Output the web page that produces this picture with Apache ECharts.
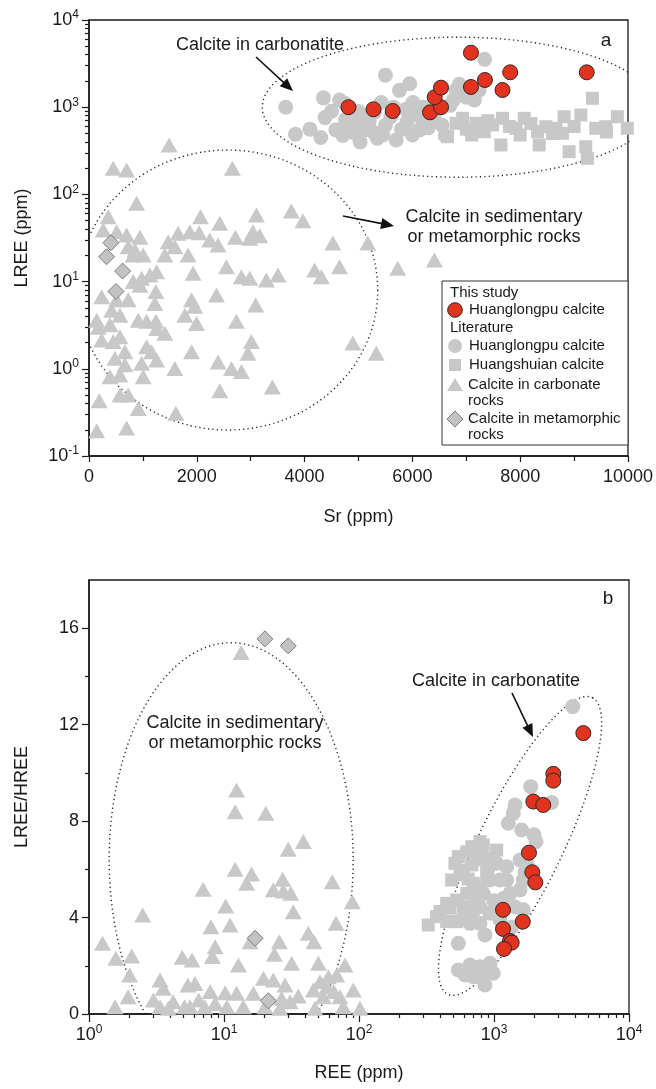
<!DOCTYPE html>
<html>
<head>
<meta charset="utf-8">
<script src="https://cdn.jsdelivr.net/npm/echarts@6/dist/echarts.min.js"></script>
<style>html,body{margin:0;padding:0;background:#fff}#main{width:656px;height:1089px}</style>
</head>
<body>
<div id="main"></div>
<script>
var FONT = '"Liberation Sans", Arial, sans-serif';
var INK = '#1a1a1a';

// ---- panel a : Sr (ppm) vs LREE (ppm) ----
var aRedHlp = [[4815,1000],[5278,946],[5635,904],[6328,873],[6531,1000],[6413,1300],[6531,1675],
  [7087,4217],[7087,1706],[7346,2051],[7815,2512],[7672,1574],[9235,2512]];
var aLitHlp = [[5500,2330],[3650,1000],[4350,1280],[4650,1210],[4380,760],[3830,490],[4300,450],
  [4580,550],[4710,475],[4890,520],[5030,400],[5110,550],[5020,810],[5270,520],[5350,440],[7340,3540],
  [4760,720],[5000,890],[5150,600],[5420,1130],[5700,420],[5760,1560],[5950,1860],[6010,1130],
  [5880,950],[6130,550],[6290,580],[6100,810],[6610,470],[6870,1830],[6930,1560],[7150,1210],
  [7240,1575],[6760,1210],[4500,900],[4800,640],[5200,700],[5500,620],[5600,780],[5300,880],
  [5900,680],[6200,690],[6000,480],[5450,480],[4950,620],[5650,1000],[6700,1050],[6200,1000],
  [7000,1300],[4750,1100],[6810,1575],[4960,490],[4100,560],[5800,560],[6400,760],[6550,620]];
var aHsa = [[6932,746],[7180,654],[7334,524],[7673,746],[7643,369],[8075,746],[8321,524],[8353,369],
  [8662,573],[8815,778],[8908,309],[9125,814],[9217,352],[9247,259],[9340,1265],[9403,573],[9803,778],
  [9988,573],[6654,459],[6810,654],[7488,625],[7921,573],[8476,597],[8784,502],[9588,597],
  [7000,560],[7400,700],[7800,600],[8200,650],[8600,500],[9000,600],[9600,520],[8000,480],[7100,480]];
var aCarbRock = [[1487,369],[450,200],[698,190],[2661,200],[883,79],[357,55.5],[2069,55.5],[2426,46.6],
  [3106,58],[3754,64.5],[3969,49.9],[265,39.1],[513,37.4],[698,34.2],[945,32.2],[1654,35.8],[1871,37.4],
  [2043,36.4],[1469,28.7],[1593,25.1],[2241,30.0],[2395,26.3],[2717,32.2],[3043,37.4],[3167,33.6],
  [2982,31.4],[4524,27.7],[5173,27.7],[728,25.1],[852,23.0],[1006,20.2],[820,20.2],[1408,20.2],
  [1839,20.2],[2550,14.8],[1932,12.5],[1254,13.0],[1130,11.9],[976,10.9],[820,10.0],[945,9.1],
  [2828,11.4],[2982,10.9],[3291,10.4],[3506,11.9],[4186,13.6],[4310,11.4],[4648,14.8],[5728,14.2],
  [6408,17.7],[1241,7.7],[1222,5.6],[235,6.7],[513,6.2],[728,6.2],[2365,7.0],[1902,6.2],[1963,5.2],
  [3093,5.4],[420,4.7],[574,4.1],[1778,4.1],[143,3.6],[913,3.6],[1069,3.5],[1241,3.5],[389,3.2],
  [172,3.0],[1995,3.3],[2735,3.5],[1254,2.9],[1408,2.55],[235,2.14],[450,2.05],[574,2.33],[3013,2.05],
  [4895,1.98],[5330,1.51],[667,1.57],[1069,1.79],[1161,1.57],[1902,1.57],[2950,1.51],[482,1.32],
  [667,1.11],[976,1.16],[1254,1.26],[1593,1.01],[2395,1.20],[2643,1.01],[2828,0.93],[389,0.81],
  [574,0.85],[1006,0.81],[574,0.50],[728,0.50],[191,0.43],[913,0.35],[2426,0.56],[3402,0.62],
  [1611,0.31],[143,0.195],[698,0.21]];
var aMetaRock = [[407,27.9],[327,19.3],[624,13.2],[500,7.7]];

// ---- panel b : REE (ppm) vs LREE/HREE ----
var bRedHlp = [[4590,11.65],[2750,9.96],[2750,9.68],[1955,8.81],[2317,8.67],[1816,6.69],[1923,5.88],
  [2024,5.46],[1166,4.32],[1634,3.83],[1166,3.53],[1314,3.03],[1352,2.96],[1186,2.70]];
var bLitHlp = [[3830,12.75],[1871,9.43],[2673,8.77],[1432,8.67],[1390,8.33],[1276,7.91],[1604,7.63],
  [1977,7.43],[2046,7.15],[544,2.93],[857,3.28],[544,1.83],[664,2.03],[788,1.96],[934,2.10],[988,1.69],
  [857,1.20],[703,1.55],[788,1.55],[610,1.62],[1648,4.32],[1432,4.45],[1314,5.0],[1560,5.15],
  [1648,5.56],[1746,6.25],[1560,6.39],[1242,6.11],[1047,6.25],[934,5.56],[833,5.0],[788,4.45],
  [934,4.18],[1107,3.9],[664,3.76],[593,4.04],[703,4.45],[1107,5.56],[1242,5.56],[788,3.76],
  [1180,4.8],[1000,4.7],[1350,3.6],[900,6.0],[1700,5.9]];
var bHsa = [[326,3.69],[376,4.04],[446,3.83],[472,4.39],[529,4.73],[486,5.56],[514,6.25],[544,6.53],
  [628,6.73],[788,7.15],[811,6.73],[684,6.18],[593,5.77],[703,5.42],[628,5.0],[593,4.45],[529,3.83],
  [934,6.46],[1047,6.8],[883,5.97],[644,5.6],[745,4.87],[883,5.56],[446,4.59],[398,4.25],[684,6.94],
  [833,7.01],[560,5.97],[760,6.4],[700,4.2],[620,4.0],[800,5.2]];
var bCarbRock = [[13.4,14.99],[12.4,9.29],[12.1,8.39],[20.4,8.33],[29.9,6.83],[38.7,7.15],[12.1,6.0],
  [16.0,5.81],[14.7,5.42],[27.2,5.59],[23.2,5.15],[27.5,5.10],[31.2,5.01],[63.4,5.49],[7.0,5.17],
  [10.3,4.48],[32.6,4.24],[89.2,4.66],[2.5,4.11],[11.1,3.69],[8.0,3.62],[67.6,3.76],[42.1,3.35],
  [46.4,3.0],[15.6,3.0],[25.7,3.0],[8.6,2.79],[1.26,2.93],[1.58,2.31],[2.07,2.41],[8.2,2.38],
  [23.6,2.48],[4.9,2.35],[5.8,2.24],[12.8,2.03],[31.7,2.10],[50,2.10],[78.8,2.03],[2.0,1.62],
  [3.36,1.41],[5.4,1.20],[6.1,1.27],[19.6,1.48],[23.2,1.41],[28.3,1.20],[51.4,1.34],[59.3,1.55],
  [68.4,1.62],[58,1.13],[45.9,1.0],[90.7,1.0],[1.95,0.72],[3.55,1.07],[7.9,0.93],[10.2,0.88],
  [12.4,0.86],[16.5,0.86],[26.7,0.65],[35.5,0.75],[65.0,0.93],[72.3,0.72],[1.56,0.30],[3.0,0.58],
  [4.2,0.51],[5.1,0.30],[6.5,0.58],[8.6,0.44],[10.5,0.30],[13.9,0.30],[20.1,0.30],[30.9,0.51],
  [47.2,0.24],[76.5,0.30],[101.7,0.24],[3.36,0.30],[3.87,0.24],[5.6,0.30],[7.2,0.30],[25.9,0.24],
  [54.4,0.72]];
var bMetaRock = [[20.1,15.56],[29.9,15.27],[17.0,3.14],[21.3,0.55]];

// tick labels
var srTicks = [0, 2000, 4000, 6000, 8000, 10000];
var ratioTicks = [0, 4, 8, 12, 16];
var ratioMinor = [2, 6, 10, 14];

// minor ticks of the log axes, in log10 units
function logMinor(from, to) {
  var out = [];
  for (var n = from; n < to; n++) for (var k = 2; k <= 9; k++) out.push(n + Math.log10(k));
  return out;
}

var supLabel = {
  fontSize: 18, fontFamily: FONT, color: INK, margin: 10,
  formatter: function (v) { return '10{s|' + Math.round(Math.log10(v)) + '}'; },
  rich: { s: { fontSize: 12, fontFamily: FONT, color: INK, padding: [0, 0, 10, 0] } }
};
var axLine = { show: true, onZero: false, lineStyle: { color: INK, width: 1.5 } };
var noLine = { show: false, onZero: false };
var tickSt = { color: INK, width: 1.2 };
var plain = function (v) { return String(v); };

var chart = echarts.init(document.getElementById('main'));

function scat(id, data, g, symbol, size, fill, stroke, z) {
  return {
    id: id, type: 'scatter', xAxisIndex: g, yAxisIndex: g, data: data,
    symbol: symbol, symbolSize: size, z: z, silent: true,
    itemStyle: { color: fill, borderColor: stroke || fill, borderWidth: stroke ? 1 : 0, opacity: 1 }
  };
}
function ell(id, g) {
  return {
    id: id, type: 'line', xAxisIndex: g, yAxisIndex: g, data: [], showSymbol: false, silent: true,
    z: 1, clip: true, lineStyle: { color: '#222', width: 1.4, type: [1.2, 3.2] }
  };
}

var GRAY = '#c8c8c8';
var RED = '#e2331f';

chart.setOption({
  animation: false,
  textStyle: { fontFamily: FONT },
  grid: [
    { left: 89, top: 20, width: 540, height: 436, show: true, borderColor: INK, borderWidth: 1.3, backgroundColor: 'transparent' },
    { left: 89, top: 580, width: 540, height: 434, show: true, borderColor: INK, borderWidth: 1.3, backgroundColor: 'transparent' }
  ],
  xAxis: [
    { gridIndex: 0, type: 'value', min: 0, max: 10000, interval: 2000, position: 'bottom',
      name: 'Sr (ppm)', nameLocation: 'middle', nameGap: 52,
      nameTextStyle: { fontSize: 18, fontFamily: FONT, color: INK },
      axisLine: axLine, splitLine: { show: false },
      axisTick: { inside: false, length: 6, lineStyle: tickSt },
      minorTick: { show: true, splitNumber: 2, length: 5, lineStyle: tickSt },
      axisLabel: { fontSize: 18, fontFamily: FONT, color: INK, margin: 12, customValues: srTicks, formatter: plain } },
    { gridIndex: 1, type: 'log', logBase: 10, min: 1, max: 10000, splitNumber: 4, position: 'bottom',
      name: 'REE (ppm)', nameLocation: 'middle', nameGap: 50,
      nameTextStyle: { fontSize: 18, fontFamily: FONT, color: INK },
      axisLine: axLine, splitLine: { show: false },
      axisTick: { inside: false, length: 8, lineStyle: tickSt },
      axisLabel: supLabel },
    { gridIndex: 1, type: 'value', min: 0, max: 4, position: 'bottom',
      axisLine: noLine, splitLine: { show: false }, axisLabel: { show: false },
      axisTick: { inside: false, length: 4, lineStyle: tickSt, customValues: logMinor(0, 4) } }
  ],
  yAxis: [
    { gridIndex: 0, type: 'log', logBase: 10, min: 0.1, max: 10000, splitNumber: 5, position: 'left',
      name: 'LREE (ppm)', nameLocation: 'middle', nameGap: 58,
      nameTextStyle: { fontSize: 18, fontFamily: FONT, color: INK },
      axisLine: axLine, splitLine: { show: false },
      axisTick: { inside: false, length: 7, lineStyle: tickSt },
      axisLabel: supLabel },
    { gridIndex: 1, type: 'value', min: 0, max: 18, position: 'left',
      name: 'LREE/HREE', nameLocation: 'middle', nameGap: 58,
      nameTextStyle: { fontSize: 18, fontFamily: FONT, color: INK },
      axisLine: axLine, splitLine: { show: false },
      axisTick: { inside: false, length: 7, lineStyle: tickSt, customValues: ratioTicks },
      axisLabel: { fontSize: 18, fontFamily: FONT, color: INK, margin: 10, customValues: ratioTicks, formatter: plain } },
    { gridIndex: 0, type: 'value', min: -1, max: 4, position: 'left',
      axisLine: noLine, splitLine: { show: false }, axisLabel: { show: false },
      axisTick: { inside: false, length: 4, lineStyle: tickSt, customValues: logMinor(-1, 4) } },
    { gridIndex: 1, type: 'value', min: 0, max: 18, position: 'left',
      axisLine: noLine, splitLine: { show: false }, axisLabel: { show: false },
      axisTick: { inside: false, length: 4, lineStyle: tickSt, customValues: ratioMinor } }
  ],
  series: [
    ell('eA1', 0), ell('eA2', 0), ell('eB1', 1), ell('eB2', 1),
    scat('aTri', aCarbRock, 0, 'triangle', [17, 15], GRAY, null, 3),
    scat('aSq', aHsa, 0, 'rect', 13, GRAY, null, 4),
    scat('aCirc', aLitHlp, 0, 'circle', 15, GRAY, null, 5),
    scat('aDia', aMetaRock, 0, 'diamond', 16, '#c2c2c2', '#7d7d7d', 6),
    scat('aRed', aRedHlp, 0, 'circle', 15, RED, '#2a2a2a', 7),
    scat('bTri', bCarbRock, 1, 'triangle', [17, 15], GRAY, null, 3),
    scat('bSq', bHsa, 1, 'rect', 13, GRAY, null, 4),
    scat('bCirc', bLitHlp, 1, 'circle', 15, GRAY, null, 5),
    scat('bDia', bMetaRock, 1, 'diamond', 16, '#c2c2c2', '#7d7d7d', 6),
    scat('bRed', bRedHlp, 1, 'circle', 15, RED, '#2a2a2a', 7)
  ]
});

// dotted field outlines: centre in data units, radii in pixels, tilt in degrees
var fields = [
  { id: 'eA1', ref: 'aTri', center: [6852, 1000], a: 196, b: 70, tilt: 0 },
  { id: 'eA2', ref: 'aTri', center: [2574, 8.0], a: 150, b: 140, tilt: 0 },
  { id: 'eB1', ref: 'bTri', center: [11.3, 6.4], a: 122, b: 217, tilt: 0 },
  { id: 'eB2', ref: 'bTri', center: [1560, 6.97], a: 165, b: 42, tilt: 64 }
];
var upd = fields.map(function (f) {
  var c = chart.convertToPixel({ seriesId: f.ref }, f.center);
  var th = f.tilt * Math.PI / 180;
  var ux = Math.cos(th), uy = -Math.sin(th), vx = Math.sin(th), vy = Math.cos(th);
  var pts = [];
  for (var i = 0; i <= 240; i++) {
    var t = i / 240 * 2 * Math.PI;
    var px = c[0] + f.a * Math.cos(t) * ux + f.b * Math.sin(t) * vx;
    var py = c[1] + f.a * Math.cos(t) * uy + f.b * Math.sin(t) * vy;
    pts.push(chart.convertFromPixel({ seriesId: f.ref }, [px, py]));
  }
  return { id: f.id, data: pts };
});

function txt(s, x, y, size, align, lh, z) {
  return { type: 'text', x: x, y: y, z: z || 50, silent: true,
    style: { text: s, fontSize: size, fontFamily: FONT, fill: INK, align: align || 'center',
      textAlign: align || 'center', verticalAlign: 'middle', textVerticalAlign: 'middle', lineHeight: lh || size } };
}
function arrow(x1, y1, x2, y2) {
  var dx = x2 - x1, dy = y2 - y1, L = Math.sqrt(dx * dx + dy * dy), ux = dx / L, uy = dy / L;
  var hl = 13, hw = 5.5, bx = x2 - ux * hl, by = y2 - uy * hl;
  return [
    { type: 'line', z: 50, silent: true, shape: { x1: x1, y1: y1, x2: bx + ux * 2, y2: by + uy * 2 }, style: { stroke: '#111', lineWidth: 1.6 } },
    { type: 'polygon', z: 50, silent: true, shape: { points: [[x2, y2], [bx - uy * hw, by + ux * hw], [bx + uy * hw, by - ux * hw]] }, style: { fill: '#111' } }
  ];
}

var LX = 442, LY = 281;
var legend = [
  { type: 'rect', z: 60, silent: true, shape: { x: LX, y: LY, width: 186, height: 164 }, style: { fill: '#fff', stroke: '#333', lineWidth: 1 } },
  txt('This study', LX + 8, LY + 12, 15, 'left', 15, 62),
  { type: 'circle', z: 61, silent: true, shape: { cx: LX + 13, cy: LY + 29, r: 7.3 }, style: { fill: RED, stroke: '#2a2a2a', lineWidth: 1 } },
  txt('Huanglongpu calcite', LX + 27, LY + 29, 15, 'left', 15, 62),
  txt('Literature', LX + 8, LY + 47, 15, 'left', 15, 62),
  { type: 'circle', z: 61, silent: true, shape: { cx: LX + 13, cy: LY + 65, r: 7 }, style: { fill: GRAY } },
  txt('Huanglongpu calcite', LX + 27, LY + 65, 15, 'left', 15, 62),
  { type: 'rect', z: 61, silent: true, shape: { x: LX + 7, y: LY + 78, width: 12, height: 12 }, style: { fill: GRAY } },
  txt('Huangshuian calcite', LX + 27, LY + 84, 15, 'left', 15, 62),
  { type: 'polygon', z: 61, silent: true, shape: { points: [[LX + 13, LY + 97], [LX + 21, LY + 110], [LX + 5, LY + 110]] }, style: { fill: GRAY } },
  txt('Calcite in carbonate\nrocks', LX + 26, LY + 112, 15, 'left', 16.5, 62),
  { type: 'polygon', z: 61, silent: true, shape: { points: [[LX + 13, LY + 130], [LX + 21, LY + 138], [LX + 13, LY + 146], [LX + 5, LY + 138]] }, style: { fill: '#c2c2c2', stroke: '#7d7d7d', lineWidth: 1 } },
  txt('Calcite in metamorphic\nrocks', LX + 26, LY + 146, 15, 'left', 16.5, 62)
];

var notes = [
  txt('Calcite in carbonatite', 260, 45, 18),
  txt('a', 606, 41, 19),
  txt('Calcite in sedimentary\nor metamorphic rocks', 494, 227, 18, 'center', 19.5),
  txt('b', 608, 599, 19),
  txt('Calcite in carbonatite', 496, 681, 18),
  txt('Calcite in sedimentary\nor metamorphic rocks', 235, 733, 18, 'center', 20)
].concat(arrow(256, 57, 293, 91), arrow(343, 216, 394, 226), arrow(512, 693, 533, 737));

chart.setOption({ series: upd, graphic: { elements: notes.concat(legend) } });
</script>
</body>
</html>
